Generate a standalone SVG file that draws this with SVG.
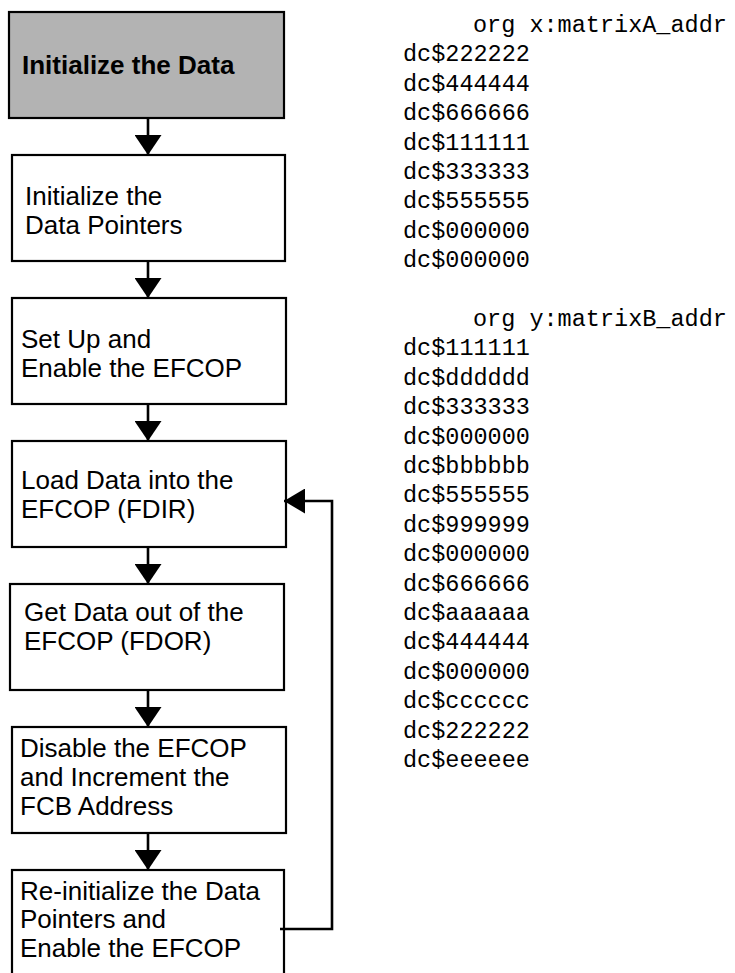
<svg xmlns="http://www.w3.org/2000/svg" width="735" height="973" viewBox="0 0 735 973">
  <style>
    .box { fill: #ffffff; stroke: #000000; stroke-width: 2.2; }
    .box.hl { fill: #b3b3b3; }
    .lbl { font-family: "Liberation Sans", Arial, sans-serif; font-size: 26px; fill: #000000; }
    .lbl.b { font-weight: bold; }
    .wire { fill: none; stroke: #000000; stroke-width: 2.6; }
    .code { font-family: "Liberation Mono", "Courier New", monospace; font-size: 23.5px; fill: #000000; }
  </style>
  <defs>
    <marker id="head" viewBox="0 0 20 27" refX="20" refY="13.5" markerWidth="20" markerHeight="27" markerUnits="userSpaceOnUse" orient="auto">
      <path d="M0,0 L20,13.5 L0,27 Z" fill="#000000"/>
    </marker>
    <marker id="headSide" viewBox="0 0 21 25" refX="21" refY="12.5" markerWidth="21" markerHeight="25" markerUnits="userSpaceOnUse" orient="auto">
      <path d="M0,0 L21,12.5 L0,25 Z" fill="#000000"/>
    </marker>
  </defs>

  <!-- flowchart steps -->
  <g id="init-data">
    <rect class="box hl" x="9" y="12" width="275" height="106"/>
    <text class="lbl b" x="22" y="74">Initialize the Data</text>
  </g>
  <g id="init-pointers">
    <rect class="box" x="12" y="155" width="273" height="106"/>
    <text class="lbl" x="25" y="205">Initialize the</text>
    <text class="lbl" x="25" y="234">Data Pointers</text>
  </g>
  <g id="setup-efcop">
    <rect class="box" x="12" y="298" width="274" height="106"/>
    <text class="lbl" x="21" y="348">Set Up and</text>
    <text class="lbl" x="21" y="377">Enable the EFCOP</text>
  </g>
  <g id="load-fdir">
    <rect class="box" x="12" y="441" width="274" height="106"/>
    <text class="lbl" x="21" y="489">Load Data into the</text>
    <text class="lbl" x="21" y="518">EFCOP (FDIR)</text>
  </g>
  <g id="get-fdor">
    <rect class="box" x="10" y="584" width="274" height="106"/>
    <text class="lbl" x="24" y="621">Get Data out of the</text>
    <text class="lbl" x="24" y="650">EFCOP (FDOR)</text>
  </g>
  <g id="disable-efcop">
    <rect class="box" x="12" y="727" width="274" height="106"/>
    <text class="lbl" x="20" y="757">Disable the EFCOP</text>
    <text class="lbl" x="20" y="786">and Increment the</text>
    <text class="lbl" x="20" y="815">FCB Address</text>
  </g>
  <g id="reinit">
    <rect class="box" x="12" y="870" width="272" height="120"/>
    <text class="lbl" x="20" y="900">Re-initialize the Data</text>
    <text class="lbl" x="20" y="928">Pointers and</text>
    <text class="lbl" x="20" y="957">Enable the EFCOP</text>
  </g>

  <!-- connectors -->
  <g id="connectors">
    <line class="wire" x1="148" y1="118" x2="148" y2="155" marker-end="url(#head)"/>
    <line class="wire" x1="148" y1="261" x2="148" y2="298" marker-end="url(#head)"/>
    <line class="wire" x1="148" y1="404" x2="148" y2="441" marker-end="url(#head)"/>
    <line class="wire" x1="148" y1="547" x2="148" y2="584" marker-end="url(#head)"/>
    <line class="wire" x1="148" y1="690" x2="148" y2="727" marker-end="url(#head)"/>
    <line class="wire" x1="148" y1="833" x2="148" y2="870" marker-end="url(#head)"/>
    <path class="wire" d="M280,929 H332 V501 H284" marker-end="url(#headSide)"/>
  </g>

  <!-- data tables -->
  <g id="matrix-a">
    <text class="code" x="473" y="32">org x:matrixA_addr</text>
    <text class="code" x="403" y="61.4">dc$222222</text>
    <text class="code" x="403" y="90.8">dc$444444</text>
    <text class="code" x="403" y="120.2">dc$666666</text>
    <text class="code" x="403" y="149.6">dc$111111</text>
    <text class="code" x="403" y="179">dc$333333</text>
    <text class="code" x="403" y="208.4">dc$555555</text>
    <text class="code" x="403" y="237.8">dc$000000</text>
    <text class="code" x="403" y="267.2">dc$000000</text>
  </g>
  <g id="matrix-b">
    <text class="code" x="473" y="326">org y:matrixB_addr</text>
    <text class="code" x="403" y="355.4">dc$111111</text>
    <text class="code" x="403" y="384.8">dc$dddddd</text>
    <text class="code" x="403" y="414.2">dc$333333</text>
    <text class="code" x="403" y="443.6">dc$000000</text>
    <text class="code" x="403" y="473">dc$bbbbbb</text>
    <text class="code" x="403" y="502.4">dc$555555</text>
    <text class="code" x="403" y="531.8">dc$999999</text>
    <text class="code" x="403" y="561.2">dc$000000</text>
    <text class="code" x="403" y="590.6">dc$666666</text>
    <text class="code" x="403" y="620">dc$aaaaaa</text>
    <text class="code" x="403" y="649.4">dc$444444</text>
    <text class="code" x="403" y="678.8">dc$000000</text>
    <text class="code" x="403" y="708.2">dc$cccccc</text>
    <text class="code" x="403" y="737.6">dc$222222</text>
    <text class="code" x="403" y="767">dc$eeeeee</text>
  </g>
</svg>
